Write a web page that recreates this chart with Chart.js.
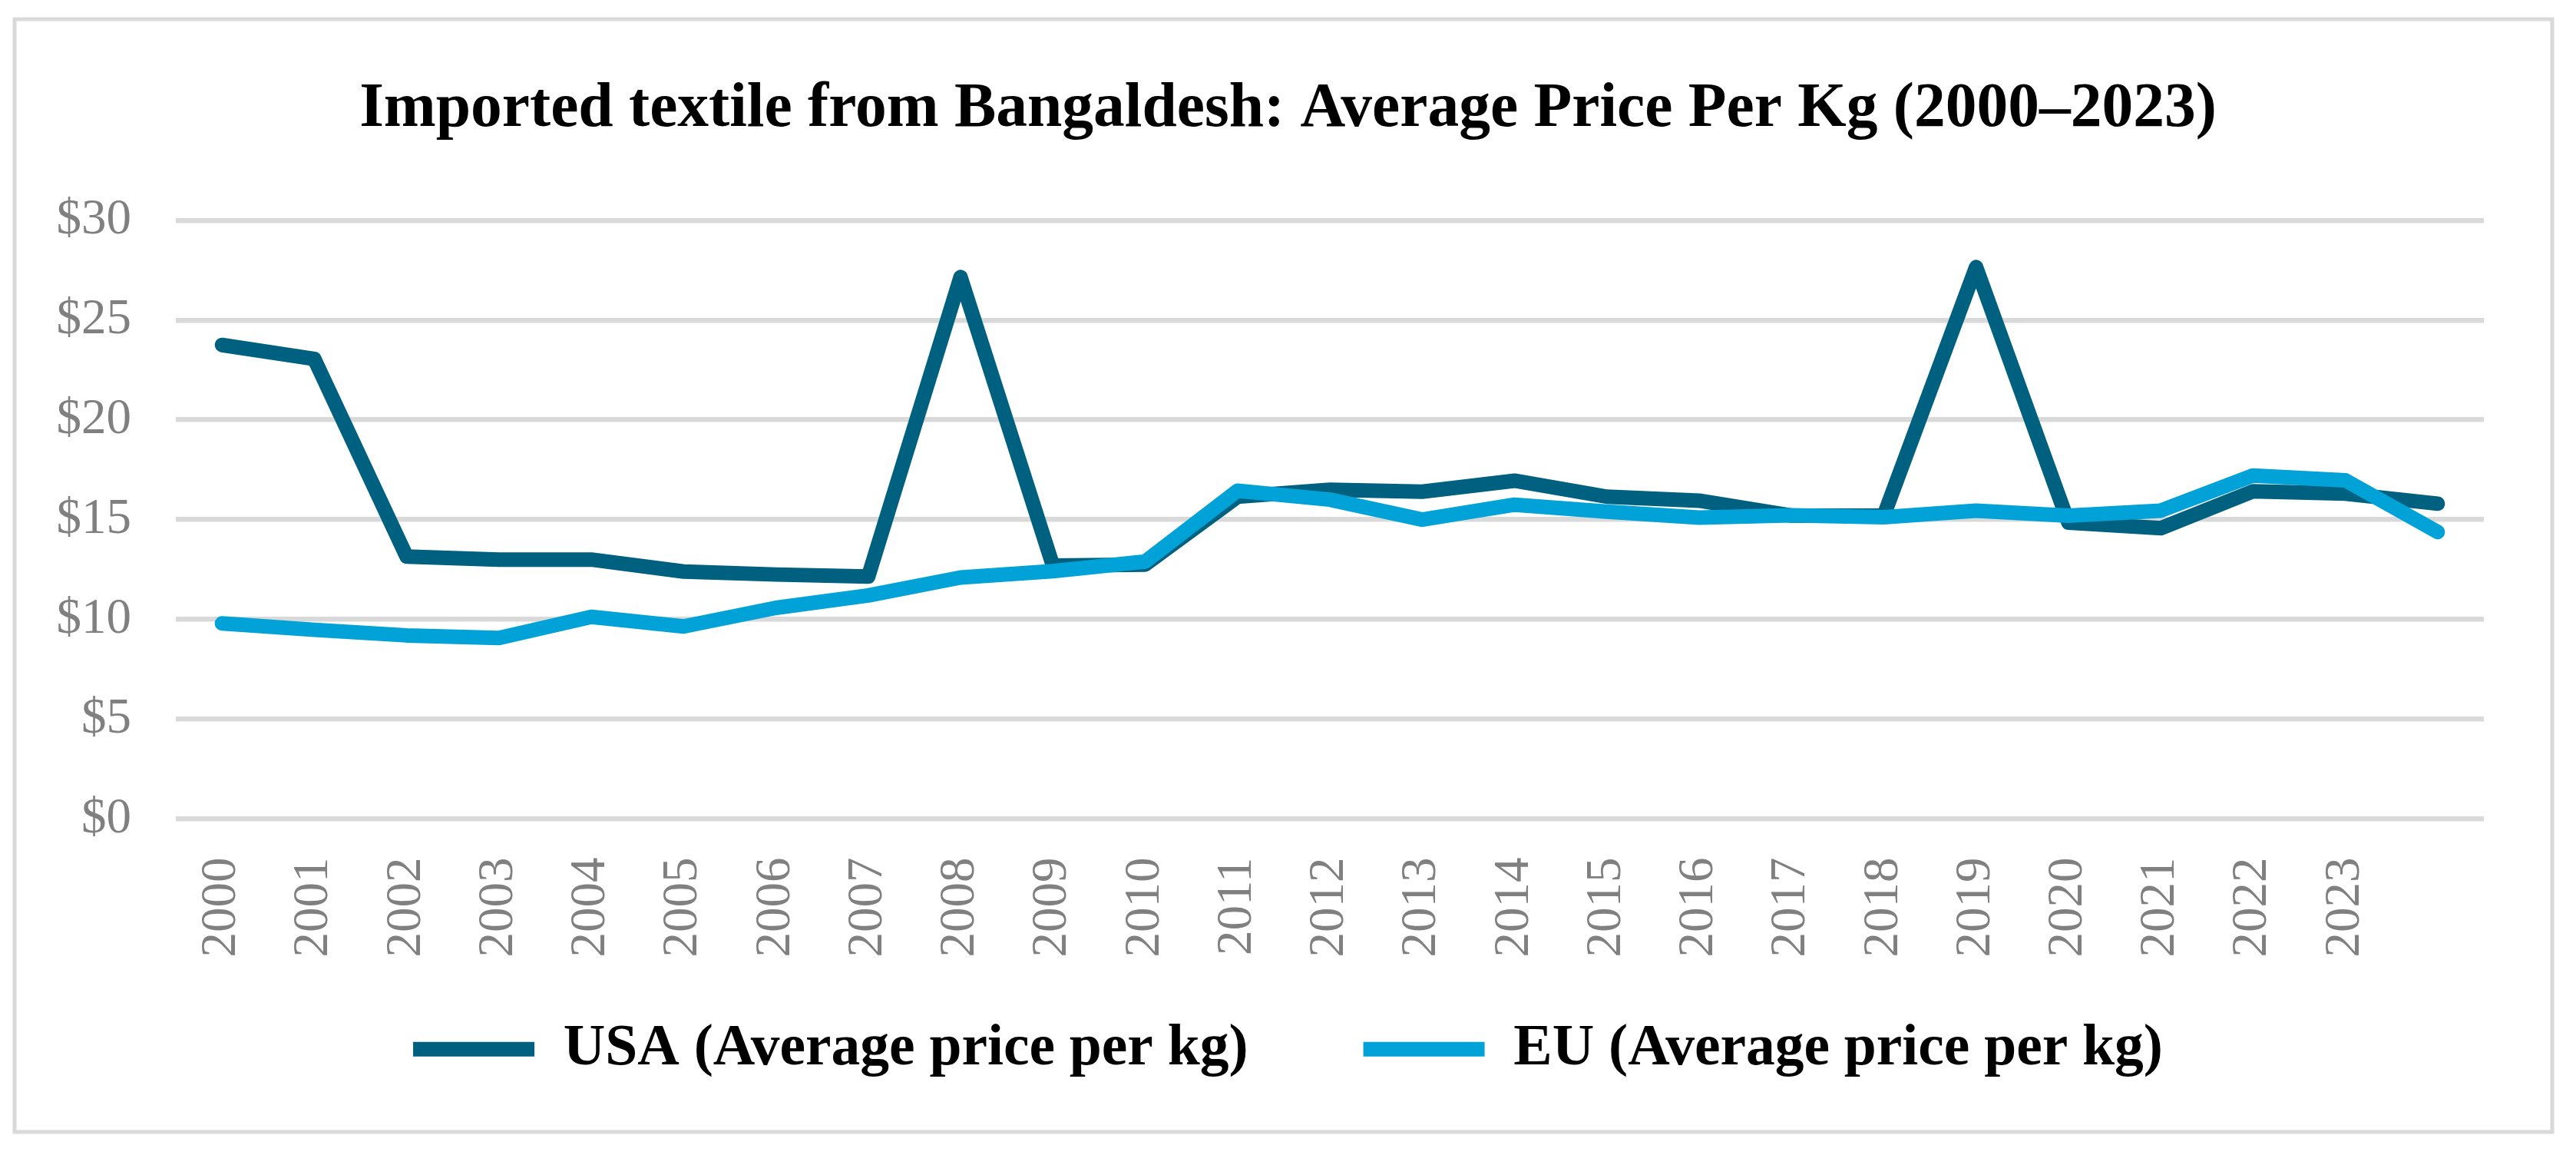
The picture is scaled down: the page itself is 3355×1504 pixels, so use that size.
<!DOCTYPE html>
<html>
<head>
<meta charset="utf-8">
<script src="https://cdn.jsdelivr.net/npm/chart.js@4.4.1/dist/chart.umd.min.js"></script>
<style>
  html, body { margin: 0; padding: 0; background: #ffffff; }
  #c { display: block; }
</style>
</head>
<body>
<canvas id="c" width="3355" height="1504" style="width:3355px;height:1504px"></canvas>
<script>
const categories = ['2000','2001','2002','2003','2004','2005','2006','2007','2008','2009','2010','2011',
                    '2012','2013','2014','2015','2016','2017','2018','2019','2020','2021','2022','2023',''];
const usaValues = [23.75, 23.05, 13.15, 13.0, 13.0, 12.4, 12.25, 12.15, 27.15, 12.7, 12.75, 16.15,
                   16.5, 16.4, 16.95, 16.15, 15.95, 15.2, 15.2, 27.65, 14.85, 14.57, 16.42, 16.3, 15.8];
const euValues  = [9.8, 9.48, 9.2, 9.07, 10.13, 9.65, 10.58, 11.2, 12.1, 12.42, 12.9, 16.45,
                   16.0, 15.0, 15.75, 15.4, 15.1, 15.22, 15.12, 15.45, 15.2, 15.45, 17.21, 16.97, 14.38];
const yTicks = [0, 5, 10, 15, 20, 25, 30];
const seriesNames = ['USA (Average price per kg)', 'EU (Average price per kg)'];
const titleText = 'Imported textile from Bangaldesh: Average Price Per Kg (2000\u20132023)';

const SERIF = "'Liberation Serif', 'Times New Roman', serif";

const framePlugin = {
  id: 'frame',
  beforeDraw(chart) {
    const ctx = chart.ctx;
    ctx.save();
    ctx.fillStyle = '#ffffff';
    ctx.fillRect(0, 0, chart.width, chart.height);
    ctx.strokeStyle = '#d9d9d9';
    ctx.lineWidth = 5;
    ctx.strokeRect(19, 25, 3305, 1449);
    ctx.restore();
  }
};

new Chart(document.getElementById('c'), {
  type: 'line',
  data: {
    labels: categories,
    datasets: [
      {
        label: seriesNames[0],
        data: usaValues,
        borderColor: '#00607F',
        backgroundColor: '#00607F',
        borderWidth: 19,
        borderCapStyle: 'round',
        borderJoinStyle: 'round',
        pointRadius: 0,
        pointHoverRadius: 0,
        pointStyle: 'line',
        tension: 0,
        fill: false,
        order: 1
      },
      {
        label: seriesNames[1],
        data: euValues,
        borderColor: '#00A2D7',
        backgroundColor: '#00A2D7',
        borderWidth: 19,
        borderCapStyle: 'round',
        borderJoinStyle: 'round',
        pointRadius: 0,
        pointHoverRadius: 0,
        pointStyle: 'line',
        tension: 0,
        fill: false,
        order: 0
      }
    ]
  },
  options: {
    responsive: false,
    animation: false,
    devicePixelRatio: 1,
    layout: { padding: { left: 0, right: 0, top: 0, bottom: 90 } },
    plugins: {
      tooltip: { enabled: false },
      title: {
        display: true,
        text: titleText,
        color: '#000000',
        font: { family: SERIF, size: 81.5, weight: 'bold', lineHeight: 1.2 },
        padding: { top: 94, bottom: 95 }
      },
      legend: {
        display: true,
        position: 'bottom',
        labels: {
          usePointStyle: true,
          pointStyleWidth: 158,
          padding: 150,
          color: '#000000',
          font: { family: SERIF, size: 75.5, weight: 'bold' },
          sort: (a, b) => a.datasetIndex - b.datasetIndex
        }
      }
    },
    scales: {
      x: {
        type: 'category',
        offset: true,
        grid: { display: false },
        border: { display: false },
        ticks: {
          autoSkip: false,
          maxRotation: 90,
          minRotation: 90,
          padding: 42,
          color: '#808080',
          font: { family: SERIF, size: 65 }
        },
        afterFit(scale) {
          scale.height = 112;
          scale._computeLabelArea = () => undefined;
        }
      },
      y: {
        position: 'left',
        min: 0,
        max: 30,
        afterBuildTicks(scale) { scale.ticks = yTicks.map(v => ({ value: v })); },
        grid: { color: '#d9d9d9', lineWidth: 6.5, drawTicks: false },
        border: { display: false },
        ticks: {
          padding: 58,
          color: '#808080',
          font: { family: SERIF, size: 65 },
          callback: (v) => '$' + v
        },
        afterFit(scale) { scale.width = 229; }
      },
      yRight: {
        position: 'right',
        display: true,
        grid: { display: false, drawTicks: false },
        border: { display: false },
        ticks: { display: false },
        afterFit(scale) { scale.width = 120; }
      }
    }
  },
  plugins: [framePlugin]
});
</script>
</body>
</html>
